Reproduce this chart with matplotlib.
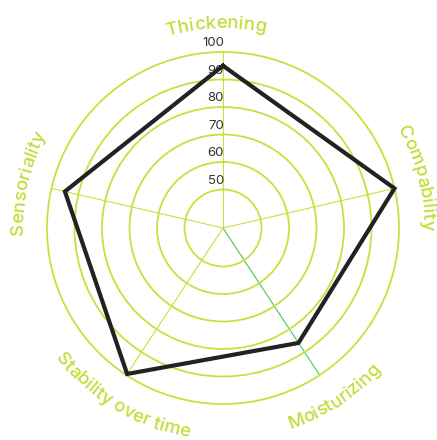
import matplotlib
matplotlib.use("Agg")
import matplotlib.pyplot as plt
import numpy as np
from matplotlib.font_manager import FontProperties
from matplotlib.transforms import offset_copy

# %% data
CATEGORIES = ["Thickening", "Compability", "Moisturizing", "Stability over time", "Sensoriality"]
VALUES = [95, 100, 86, 99.5, 95]
RING_TICKS = [50, 60, 70, 80, 90, 100]
R_MIN, R_MAX = 36, 100

# spoke directions, degrees clockwise from the top (the reference is not evenly spaced)
SPOKE_DEG = [0, 77, 146.7, 213.3, 283]
LABEL_UPPER = [True, True, False, False, True]
LABEL_SHIFT = [-2.0, -1.5, 0.0, -2.5, 0.0]  # small nudges, degrees clockwise

GRID = "#c9e03c"
LABEL_COLOR = "#c3dc3a"
SPOKE_GREEN = "#4cc35c"
LINE_COLOR = "#222222"

W, H = 437, 440
CX, CY = 223, 228  # centre in pixels, from top-left
R_PX = 176

fig = plt.figure(figsize=(W / 100, H / 100), dpi=100)
ax = fig.add_axes(
    [(CX - R_PX) / W, (H - CY - R_PX) / H, 2 * R_PX / W, 2 * R_PX / H],
    projection="polar",
)
ax.set_theta_offset(np.pi / 2)
ax.set_theta_direction(-1)
angles = np.deg2rad(SPOKE_DEG)
ax.set_ylim(R_MIN, R_MAX)
ax.set_xticks([])
ax.set_yticks(RING_TICKS[:-1])
ax.set_yticklabels([])
ax.xaxis.grid(False)
ax.yaxis.grid(True, color=GRID, lw=1.3)
ax.spines["polar"].set_color(GRID)
ax.spines["polar"].set_linewidth(1.3)
ax.set_facecolor("none")

# spokes
for i, a in enumerate(angles):
    c = SPOKE_GREEN if i == 2 else GRID
    ax.plot([a, a], [R_MIN, R_MAX], color=c, lw=0.8, zorder=1)

# data polygon
ax.plot(
    np.append(angles, angles[0]),
    VALUES + [VALUES[0]],
    color=LINE_COLOR,
    lw=3.0,
    zorder=5,
    solid_joinstyle="miter",
    clip_on=False,
)

# ring labels along the top spoke
tick_font = FontProperties(family="Inter", size=9.5)
trans = offset_copy(ax.transData, fig=fig, x=1, y=3, units="dots")
for v in RING_TICKS:
    ax.text(0, v, str(v), transform=trans, ha="right", va="bottom",
            fontproperties=tick_font, color="#333333", zorder=3)

# curved category labels
label_font = FontProperties(family="Inter", size=13.3, weight="medium")
renderer = fig.canvas.get_renderer()


def text_width(s):
    w, _, _ = renderer.get_text_width_height_descent(s, label_font, ismath=False)
    return w


def curved_label(text, theta_deg, upper):
    total = text_width(text)
    r_base = 200 if upper else 212
    th_c = np.deg2rad(theta_deg)
    for i, ch in enumerate(text):
        if ch == " ":
            continue
        s_i = text_width(text[: i + 1]) - text_width(ch) / 2
        if upper:
            th = th_c + (total / 2 - s_i) / r_base
            rot = np.rad2deg(th) - 90
        else:
            th = th_c + (s_i - total / 2) / r_base
            rot = np.rad2deg(th) + 90
        x = CX + r_base * np.cos(th)
        y = CY - r_base * np.sin(th)
        fig.text(x / W, 1 - y / H, ch, fontproperties=label_font,
                 color=LABEL_COLOR, rotation=rot, rotation_mode="anchor",
                 ha="center", va="baseline")


for name, deg, shift, up in zip(CATEGORIES, SPOKE_DEG, LABEL_SHIFT, LABEL_UPPER):
    curved_label(name, 90 - deg - shift, up)

fig.savefig("out.png", dpi=100, facecolor="white")
